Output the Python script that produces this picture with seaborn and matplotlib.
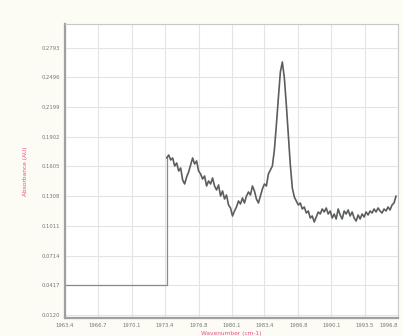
import matplotlib
matplotlib.use("Agg")
import matplotlib.pyplot as plt
import seaborn as sns
import pandas as pd

# Baseline before the source switches on
baseline_x = [1963.4, 1973.6, 1973.6]
baseline_y = [0.0417, 0.0417, 0.169]

# Measured spectrum (wavenumber, absorbance)
spectrum_x = [
    1973.6, 1973.8, 1974.0, 1974.2, 1974.4, 1974.6, 1974.8, 1975.0, 1975.2, 1975.4,
    1975.6, 1975.8, 1976.0, 1976.2, 1976.4, 1976.6, 1976.8, 1977.0, 1977.2, 1977.4,
    1977.6, 1977.8, 1978.0, 1978.2, 1978.4, 1978.6, 1978.8, 1979.0, 1979.2, 1979.4,
    1979.6, 1979.8, 1980.0, 1980.2, 1980.4, 1980.6, 1980.8, 1981.0, 1981.2, 1981.4,
    1981.6, 1981.8, 1982.0, 1982.2, 1982.4, 1982.6, 1982.8, 1983.0, 1983.2, 1983.4,
    1983.6, 1983.8, 1984.0, 1984.2, 1984.4, 1984.6, 1984.8, 1985.0, 1985.2, 1985.4,
    1985.6, 1985.8, 1986.0, 1986.2, 1986.4, 1986.6, 1986.8, 1987.0, 1987.2, 1987.4,
    1987.6, 1987.8, 1988.0, 1988.2, 1988.4, 1988.6, 1988.8, 1989.0, 1989.2, 1989.4,
    1989.6, 1989.8, 1990.0, 1990.2, 1990.4, 1990.6, 1990.8, 1991.0, 1991.2, 1991.4,
    1991.6, 1991.8, 1992.0, 1992.2, 1992.4, 1992.6, 1992.8, 1993.0, 1993.2, 1993.4,
    1993.6, 1993.8, 1994.0, 1994.2, 1994.4, 1994.6, 1994.8, 1995.0, 1995.2, 1995.4,
    1995.6, 1995.8, 1996.0, 1996.2, 1996.4, 1996.6,
]
spectrum_y = [
    0.169, 0.172, 0.167, 0.169, 0.161, 0.164, 0.156, 0.159, 0.147, 0.143,
    0.150, 0.155, 0.162, 0.169, 0.163, 0.166, 0.156, 0.153, 0.148, 0.151,
    0.141, 0.146, 0.143, 0.149, 0.141, 0.137, 0.142, 0.131, 0.136, 0.128,
    0.132, 0.122, 0.119, 0.111, 0.116, 0.120, 0.126, 0.123, 0.129, 0.124,
    0.131, 0.135, 0.132, 0.141, 0.136, 0.128, 0.124, 0.131, 0.138, 0.143,
    0.141, 0.153, 0.157, 0.161, 0.177, 0.202, 0.229, 0.255, 0.265, 0.249,
    0.222, 0.192, 0.162, 0.139, 0.130, 0.126, 0.122, 0.124, 0.118, 0.120,
    0.114, 0.116, 0.109, 0.111, 0.105, 0.110, 0.115, 0.113, 0.118, 0.115,
    0.119, 0.113, 0.116, 0.109, 0.113, 0.108, 0.118, 0.112, 0.108, 0.116,
    0.113, 0.117, 0.111, 0.115, 0.109, 0.106, 0.112, 0.108, 0.113, 0.110,
    0.115, 0.112, 0.116, 0.114, 0.118, 0.115, 0.119, 0.116, 0.114, 0.118,
    0.116, 0.120, 0.117, 0.122, 0.124, 0.131,
]

x_ticks = [1963.4, 1966.7, 1970.1, 1973.4, 1976.8, 1980.1,
           1983.4, 1986.8, 1990.1, 1993.5, 1996.8]
y_ticks = [0.0120, 0.0417, 0.0714, 0.1011, 0.1308,
           0.1605, 0.1902, 0.2199, 0.2496, 0.2793]

x_label = "Wavenumber (cm-1)"
y_label = "Absorbance (AU)"

sns.set_theme(style="whitegrid")
plt.rcParams["font.family"] = ["DejaVu Sans"]

fig = plt.figure(figsize=(4.03, 3.36), dpi=100, facecolor="#fcfcf4")
ax = fig.add_axes([0.1613, 0.0536, 0.8263, 0.875])
ax.set_facecolor("white")

base_df = pd.DataFrame({"x": baseline_x, "y": baseline_y})
spec_df = pd.DataFrame({"x": spectrum_x, "y": spectrum_y})

sns.lineplot(data=base_df, x="x", y="y", sort=False, estimator=None,
             color="#8a8a8a", linewidth=0.9, ax=ax)
sns.lineplot(data=spec_df, x="x", y="y", sort=False, estimator=None,
             color="#5a5f5a", linewidth=1.2, ax=ax)

ax.set_xlim(1963.4, 1996.8)
ax.set_ylim(0.0090, 0.3030)
ax.set_xticks(x_ticks)
ax.set_xticklabels([f"{v:.1f}" for v in x_ticks])
ax.set_yticks(y_ticks)
ax.set_yticklabels([f"{v:.4f}" for v in y_ticks])

ax.grid(True, color="#e4e4e4", linewidth=0.8)
ax.tick_params(axis="both", labelsize=3.8, colors="#8a8a8a", length=2,
               width=0.6, pad=1.5)
ax.tick_params(axis="both", labelcolor="#777777")
# keep the last wavenumber label inside the figure
ax.get_xticklabels()[-1].set_horizontalalignment("right")

for side in ("left", "bottom"):
    ax.spines[side].set_color("#a0a0a0")
    ax.spines[side].set_linewidth(1.6)
for side in ("top", "right"):
    ax.spines[side].set_color("#c8c8c8")
    ax.spines[side].set_linewidth(0.8)

ax.set_xlabel(x_label, fontsize=4.2, color="#e8507e", labelpad=2)
ax.set_ylabel(y_label, fontsize=4.2, color="#e8507e", labelpad=10)

fig.savefig("out.png", dpi=100, facecolor=fig.get_facecolor())
